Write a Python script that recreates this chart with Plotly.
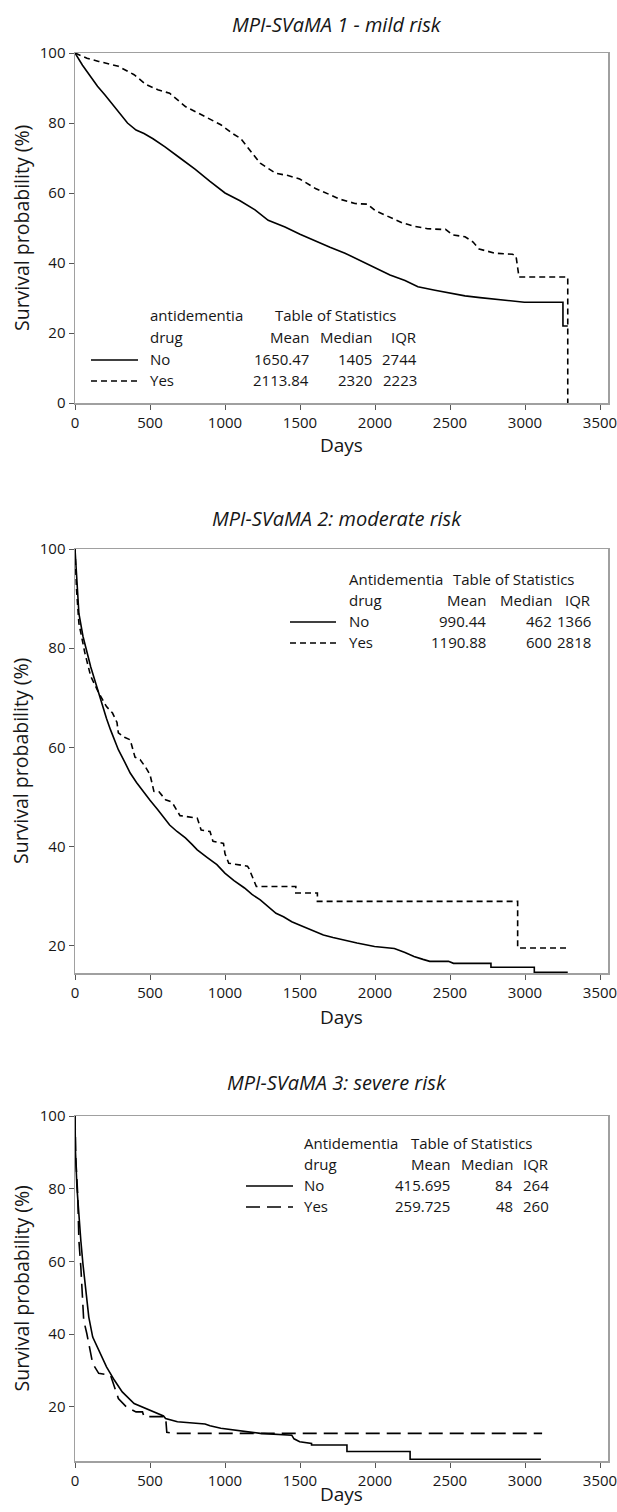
import plotly.graph_objects as go

W, H = 617, 1512

# ---------------- data ----------------
titles = ["MPI-SVaMA 1 - mild risk", "MPI-SVaMA 2: moderate risk", "MPI-SVaMA 3: severe risk"]
group_headers = ["antidementia", "Antidementia", "Antidementia"]
groups = ["No", "Yes"]

# Panel 1 - mild risk
p1_no_days = [0, 50, 100, 150, 200, 250, 300, 350, 407, 460, 520, 600, 700, 800, 900, 1000, 1100, 1200, 1288,
              1400, 1500, 1600, 1700, 1800, 1900, 2010, 2100, 2200, 2286, 2400, 2510, 2600, 2700, 2800,
              2900, 2996, 3253, 3253, 3285]
p1_no_surv = [100, 96.5, 93.5, 90.5, 88, 85.3, 82.5, 80, 78, 77, 75.5, 73.2, 70, 66.8, 63.3, 60, 57.8, 55.2,
              52.2, 50.3, 48.2, 46.3, 44.5, 42.8, 40.8, 38.4, 36.6, 35, 33.2, 32.2, 31.3, 30.6, 30.1, 29.6,
              29.1, 28.8, 28.8, 22.0, 22.0]
p1_yes_days = [0, 80, 158, 289, 394, 473, 552, 631, 736, 841, 972, 1050, 1104, 1170, 1235, 1340, 1420, 1498,
               1603, 1700, 1761, 1866, 1950, 2000, 2102, 2180, 2260, 2350, 2444, 2470, 2520, 2600, 2654,
               2694, 2800, 2917, 2940, 2960, 3285, 3285]
p1_yes_surv = [100, 98.5, 97.6, 96.2, 93.8, 91, 89.5, 88.5, 84.7, 82.3, 79.5, 77, 75.6, 72, 68.5, 65.6, 65,
               64, 61.3, 59.5, 58.3, 57, 56.8, 55, 53, 51.5, 50.5, 49.8, 49.6, 49.6, 48, 47.5, 46,
               44, 42.8, 42.5, 42, 36, 36, 0]

# Panel 2 - moderate risk
p2_no_days = [0, 5, 13, 26, 53, 79, 105, 131, 158, 184, 210, 237, 263, 289, 330, 368, 410, 447, 500, 552,
              600, 631, 680, 736, 780, 815, 880, 946, 999, 1060, 1130, 1180, 1235, 1290, 1340, 1390, 1445,
              1500, 1550, 1600, 1656, 1720, 1787, 1880, 1997, 2129, 2200, 2260, 2320, 2365, 2490, 2523,
              2773, 2773, 3062, 3062, 3285]
p2_no_surv = [100, 97, 93.8, 87, 82.4, 79, 76.2, 73.6, 70.8, 68.2, 65.8, 63.5, 61.4, 59.5, 57.1, 54.8, 52.9,
              51.4, 49.3, 47.4, 45.5, 44.3, 43, 41.7, 40.4, 39.3, 37.8, 36.3, 34.6, 33.1, 31.6, 30.3, 29.2,
              27.8, 26.5, 25.8, 24.8, 24.1, 23.5, 22.8, 22.1, 21.6, 21.1, 20.5, 19.8, 19.4, 18.6, 17.8,
              17.2, 16.8, 16.8, 16.4, 16.4, 15.6, 15.6, 14.6, 14.6]
p2_yes_days = [0, 10, 26, 66, 105, 158, 210, 250, 280, 289, 330, 368, 400, 434, 470, 500, 526, 560, 604, 640,
               657, 700, 815, 841, 900, 920, 990, 1000, 1025, 1150, 1160, 1209, 1472, 1472, 1616, 1616,
               2951, 2951, 3285]
p2_yes_surv = [100, 92, 85, 79, 74.3, 71, 68.2, 66.9, 65, 62.9, 62, 61.5, 58, 57.5, 56, 54.5, 51.1, 51,
               49.4, 49, 48.4, 46.2, 45.7, 43.3, 43, 41, 40.6, 38.5, 36.6, 36, 35.5, 31.9, 31.9, 30.6,
               30.6, 28.9, 28.9, 19.5, 19.5]

# Panel 3 - severe risk
p3_no_days = [0, 3, 13, 26, 39, 53, 74, 92, 118, 158, 210, 263, 315, 394, 473, 552, 590, 604, 683, 867, 900,
              972, 1077, 1235, 1445, 1460, 1498, 1577, 1577, 1813, 1813, 2234, 2234, 3106]
p3_no_surv = [100, 90.4, 80.3, 72, 65.7, 59.3, 51, 44.7, 39.2, 35.6, 31, 27.3, 24.1, 20.9, 19.6, 18.2, 17.5,
              16.8, 15.9, 15.3, 14.8, 14.1, 13.6, 12.7, 12.2, 11.2, 10.4, 9.9, 9.5, 9.5, 7.7, 7.7, 5.6, 5.6]
p3_yes_days = [0, 5, 18, 26, 39, 58, 79, 118, 158, 237, 289, 342, 407, 450, 460, 604, 612, 657, 3114]
p3_yes_surv = [100, 88.6, 78.5, 65.7, 58.4, 43.8, 40.1, 31.9, 29.2, 28.7, 22.3, 20, 18.6, 18.6, 17.3, 17.3,
               13.0, 12.7, 12.7]

# Table of statistics
p1_mean = ["1650.47", "2113.84"]; p1_median = ["1405", "2320"]; p1_iqr = ["2744", "2223"]
p2_mean = ["990.44", "1190.88"]; p2_median = ["462", "600"]; p2_iqr = ["1366", "2818"]
p3_mean = ["415.695", "259.725"]; p3_median = ["84", "48"]; p3_iqr = ["264", "260"]

x_ticks = [0, 500, 1000, 1500, 2000, 2500, 3000, 3500]
y_ticks_1 = [0, 20, 40, 60, 80, 100]
y_ticks_23 = [20, 40, 60, 80, 100]

# ---------------- layout helpers ----------------
def xp(px):
    return px / W

def yp(py):
    return 1 - py / H

FONT = "Open Sans, Noto Sans, Liberation Sans, sans-serif"
TXT = "#161616"

panels = [
    dict(no=(p1_no_days, p1_no_surv), yes=(p1_yes_days, p1_yes_surv), top=53, bot=403, yr=[0, 100],
         yt=y_ticks_1, title_y=25, days_y=445, yes_dash="6px,4px",
         stats=(p1_mean, p1_median, p1_iqr), hdr=group_headers[0],
         lab_x=148, line_x=(91, 138), row_y=[315, 337, 359, 380], tos_x=273, col_r=[311, 374, 419]),
    dict(no=(p2_no_days, p2_no_surv), yes=(p2_yes_days, p2_yes_surv), top=549, bot=973, yr=[14.45, 100],
         yt=y_ticks_23, title_y=518, days_y=1017, yes_dash="6px,4px",
         stats=(p2_mean, p2_median, p2_iqr), hdr=group_headers[1],
         lab_x=347, line_x=(290, 336), row_y=[579, 600, 621, 642], tos_x=451, col_r=[488, 554, 593]),
    dict(no=(p3_no_days, p3_no_surv), yes=(p3_yes_days, p3_yes_surv), top=1116, bot=1461, yr=[5.1, 100],
         yt=y_ticks_23, title_y=1082, days_y=1494, yes_dash="14px,7px",
         stats=(p3_mean, p3_median, p3_iqr), hdr=group_headers[2],
         lab_x=302, line_x=(246, 293), row_y=[1143, 1164, 1185, 1206], tos_x=409, col_r=[452, 515, 551]),
]

X_LEFT, X_RIGHT = 75, 608
X_MAX = (X_RIGHT - X_LEFT) / 0.15

fig = go.Figure()
annotations = []
shapes = []
layout_axes = {}

for i, p in enumerate(panels, start=1):
    xa = "x" if i == 1 else f"x{i}"
    ya = "y" if i == 1 else f"y{i}"
    fig.add_trace(go.Scatter(x=p["no"][0], y=p["no"][1], mode="lines",
                             line=dict(color="black", width=1.6), xaxis=xa, yaxis=ya, showlegend=False))
    fig.add_trace(go.Scatter(x=p["yes"][0], y=p["yes"][1], mode="lines",
                             line=dict(color="black", width=1.6, dash=p["yes_dash"]),
                             xaxis=xa, yaxis=ya, showlegend=False))
    axis_common = dict(showgrid=False, zeroline=False, showline=True, mirror=True, linecolor="#a0a0a0",
                       linewidth=1.5, ticks="outside", ticklen=5, tickwidth=1, tickcolor="#555555",
                       tickfont=dict(family=FONT, size=15, color=TXT), automargin=False,
                       ticklabeloverflow="allow")
    layout_axes["xaxis" if i == 1 else f"xaxis{i}"] = dict(
        axis_common, domain=[xp(X_LEFT), xp(X_RIGHT)], range=[0, X_MAX], tickvals=x_ticks,
        anchor=ya)
    layout_axes["yaxis" if i == 1 else f"yaxis{i}"] = dict(
        axis_common, domain=[yp(p["bot"]), yp(p["top"])], range=p["yr"], tickvals=p["yt"],
        anchor=xa)

    # titles
    annotations.append(dict(text=f"<i>{titles[i-1]}</i>", x=xp(337), y=yp(p["title_y"]), xref="paper",
                            yref="paper", showarrow=False, xanchor="center", yanchor="middle",
                            font=dict(family=FONT, size=20, color=TXT)))
    annotations.append(dict(text="Days", x=xp(342), y=yp(p["days_y"]), xref="paper", yref="paper",
                            showarrow=False, xanchor="center", yanchor="middle",
                            font=dict(family=FONT, size=19, color=TXT)))
    annotations.append(dict(text="Survival probability (%)", x=xp(21), y=yp((p["top"] + p["bot"]) / 2),
                            xref="paper", yref="paper", showarrow=False, textangle=-90,
                            xanchor="center", yanchor="middle",
                            font=dict(family=FONT, size=19.5, color=TXT)))

    # table of statistics
    ry = p["row_y"]
    tf = dict(family=FONT, size=15, color=TXT)
    def txt(s, x, y, anchor):
        annotations.append(dict(text=s, x=xp(x), y=yp(y), xref="paper", yref="paper", showarrow=False,
                                xanchor=anchor, yanchor="middle", font=tf))
    txt(p["hdr"], p["lab_x"], ry[0], "left")
    txt("drug", p["lab_x"], ry[1], "left")
    txt(groups[0], p["lab_x"], ry[2], "left")
    txt(groups[1], p["lab_x"], ry[3], "left")
    txt("Table of Statistics", p["tos_x"], ry[0], "left")
    for hdr, cx in zip(["Mean", "Median", "IQR"], p["col_r"]):
        txt(hdr, cx, ry[1], "right")
    for col, cx in zip(p["stats"], p["col_r"]):
        txt(col[0], cx, ry[2], "right")
        txt(col[1], cx, ry[3], "right")
    shapes.append(dict(type="line", xref="paper", yref="paper", x0=xp(p["line_x"][0]), x1=xp(p["line_x"][1]),
                       y0=yp(ry[2] + 1), y1=yp(ry[2] + 1), line=dict(color="black", width=1.6)))
    shapes.append(dict(type="line", xref="paper", yref="paper", x0=xp(p["line_x"][0]), x1=xp(p["line_x"][1]),
                       y0=yp(ry[3] + 1), y1=yp(ry[3] + 1),
                       line=dict(color="black", width=1.6, dash=p["yes_dash"])))

fig.update_layout(width=W, height=H, margin=dict(l=0, r=0, t=0, b=0), plot_bgcolor="white",
                  paper_bgcolor="white", annotations=annotations, shapes=shapes, showlegend=False,
                  hovermode=False, **layout_axes)

fig.write_html("out.html", config={"displayModeBar": False, "staticPlot": True},
               post_script="document.body.style.margin='0';document.body.style.overflow='hidden';")
